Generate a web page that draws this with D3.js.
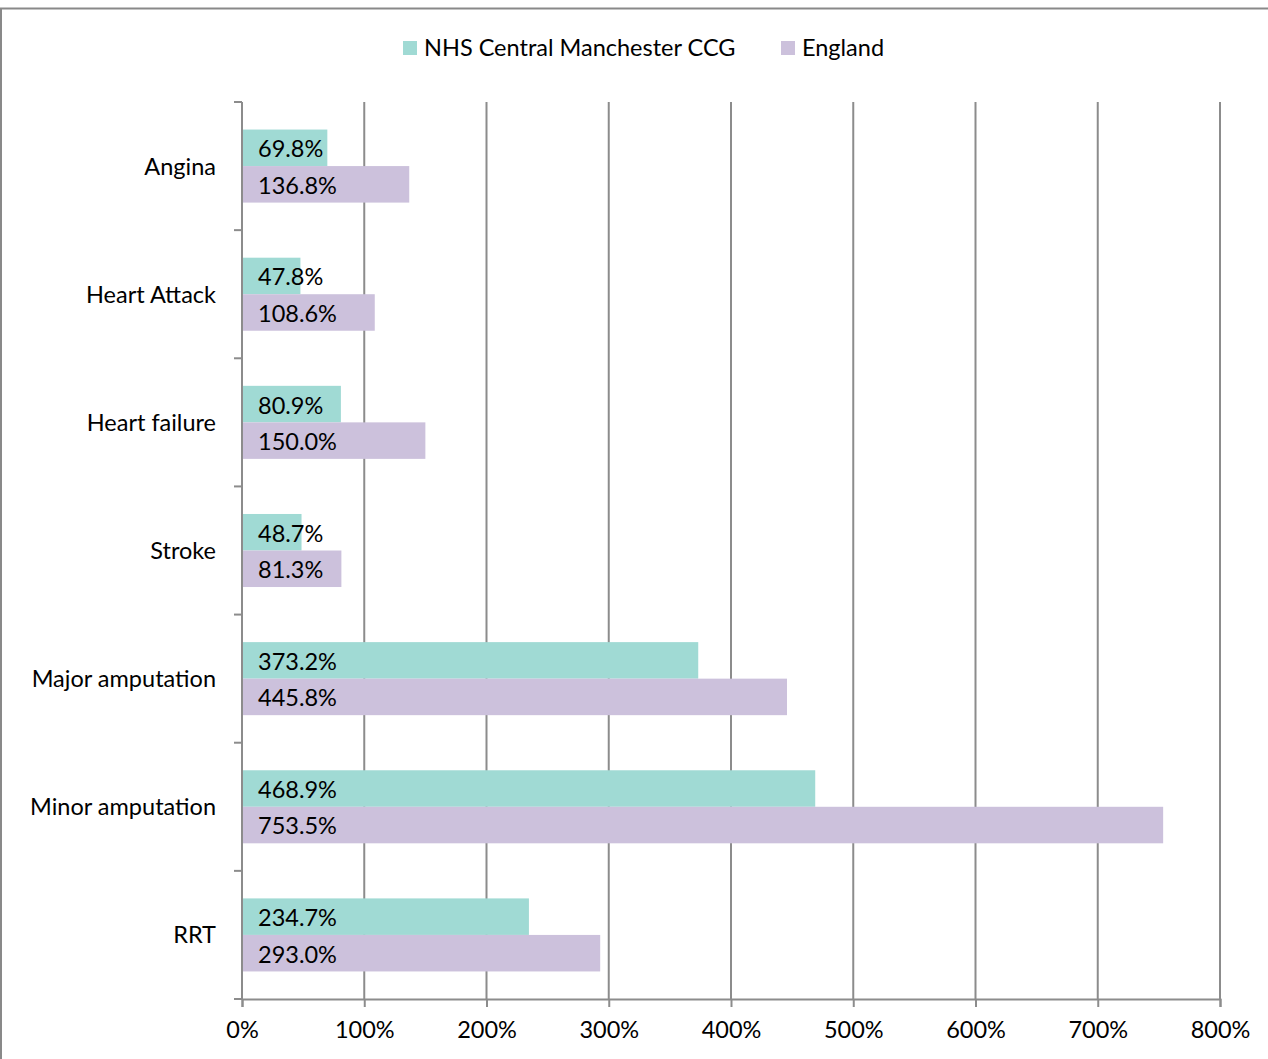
<!DOCTYPE html>
<html>
<head>
<meta charset="utf-8">
<script src="https://cdn.jsdelivr.net/npm/d3@7"></script>
<style>
  html, body { margin: 0; padding: 0; background: #fff; }
  svg { display: block; font-family: Lato, "Open Sans", sans-serif; }
</style>
</head>
<body>
<svg id="chart" width="1268" height="1059"></svg>
<script>
// Outcome categories and percentage values per series
const categories = ["Angina", "Heart Attack", "Heart failure", "Stroke", "Major amputation", "Minor amputation", "RRT"];
const seriesNames = ["NHS Central Manchester CCG", "England"];
const ccgValues = [69.8, 47.8, 80.9, 48.7, 373.2, 468.9, 234.7];
const englandValues = [136.8, 108.6, 150.0, 81.3, 445.8, 753.5, 293.0];
const xTicks = [0, 100, 200, 300, 400, 500, 600, 700, 800];
const colors = ["#a0dad4", "#ccc1dc"];

const FONT = 23.5;
const svg = d3.select("#chart");
const W = 1268, H = 1059;
const margin = { left: 242, right: 48, top: 102, bottom: 60 };
const plotW = W - margin.left - margin.right; // 978
const plotH = H - margin.top - margin.bottom; // 897

// Outer frame
svg.append("rect")
  .attr("x", 1).attr("y", 8.5).attr("width", W + 10).attr("height", H + 10)
  .attr("fill", "none").attr("stroke", "#898989").attr("stroke-width", 2);

const x = d3.scaleLinear().domain([0, 800]).range([margin.left, margin.left + plotW]);
const y = d3.scaleBand().domain(categories).range([margin.top, margin.top + plotH])
  .paddingInner(0.43).paddingOuter(0.215);
const ySub = d3.scaleBand().domain([0, 1]).range([0, y.bandwidth()]);

// Vertical gridlines
svg.append("g").selectAll("line").data(xTicks.slice(1)).join("line")
  .attr("x1", d => x(d)).attr("x2", d => x(d))
  .attr("y1", margin.top).attr("y2", margin.top + plotH)
  .attr("stroke", "#8c8c8c").attr("stroke-width", 2);

// Bars
const rows = categories.map((c, i) => ({ c, vals: [ccgValues[i], englandValues[i]] }));
const groups = svg.append("g").selectAll("g").data(rows).join("g")
  .attr("transform", d => `translate(0,${y(d.c)})`);
groups.selectAll("rect").data(d => d.vals.map((v, k) => ({ v, k }))).join("rect")
  .attr("x", x(0)).attr("y", d => ySub(d.k))
  .attr("width", d => x(d.v) - x(0)).attr("height", ySub.bandwidth())
  .attr("fill", d => colors[d.k]);
groups.selectAll("text").data(d => d.vals.map((v, k) => ({ v, k }))).join("text")
  .attr("x", x(0) + 16).attr("y", d => ySub(d.k) + ySub.bandwidth() / 2 + 1)
  .attr("dy", "0.36em")
  .attr("font-size", FONT).attr("fill", "#000")
  .text(d => d.v.toFixed(1) + "%");

// X axis
const xAxis = svg.append("g").attr("transform", `translate(0,${margin.top + plotH})`)
  .call(d3.axisBottom(x).tickValues(xTicks).tickFormat(d => d + "%").tickSize(8).tickPadding(14));
xAxis.select(".domain").attr("stroke", "#8c8c8c").attr("stroke-width", 2);
xAxis.selectAll(".tick line").attr("stroke", "#8c8c8c").attr("stroke-width", 2);
xAxis.selectAll("text").attr("font-size", FONT).attr("font-family", "Lato, 'Open Sans', sans-serif").attr("fill", "#000");

// Y axis: category separators and labels
const yAxisG = svg.append("g");
yAxisG.append("line")
  .attr("x1", x(0)).attr("x2", x(0)).attr("y1", margin.top).attr("y2", margin.top + plotH)
  .attr("stroke", "#8c8c8c").attr("stroke-width", 2);
const step = plotH / categories.length;
yAxisG.selectAll(".sep").data(d3.range(categories.length + 1)).join("line")
  .attr("class", "sep")
  .attr("x1", x(0) - 8).attr("x2", x(0))
  .attr("y1", i => margin.top + i * step).attr("y2", i => margin.top + i * step)
  .attr("stroke", "#8c8c8c").attr("stroke-width", 2);
yAxisG.selectAll("text").data(categories).join("text")
  .attr("x", 216).attr("y", d => y(d) + y.bandwidth() / 2)
  .attr("dy", "0.36em").attr("text-anchor", "end")
  .attr("font-size", FONT).attr("fill", "#000")
  .text(d => d);

// Legend
const legend = svg.append("g");
const legendItems = [{ name: seriesNames[0], x: 403 }, { name: seriesNames[1], x: 781 }];
legendItems.forEach((it, k) => {
  legend.append("rect").attr("x", it.x).attr("y", 41).attr("width", 14).attr("height", 14).attr("fill", colors[k]);
  legend.append("text").attr("x", it.x + 21).attr("y", 48).attr("dy", "0.36em")
    .attr("font-size", FONT).attr("fill", "#000").text(it.name);
});
</script>
</body>
</html>
